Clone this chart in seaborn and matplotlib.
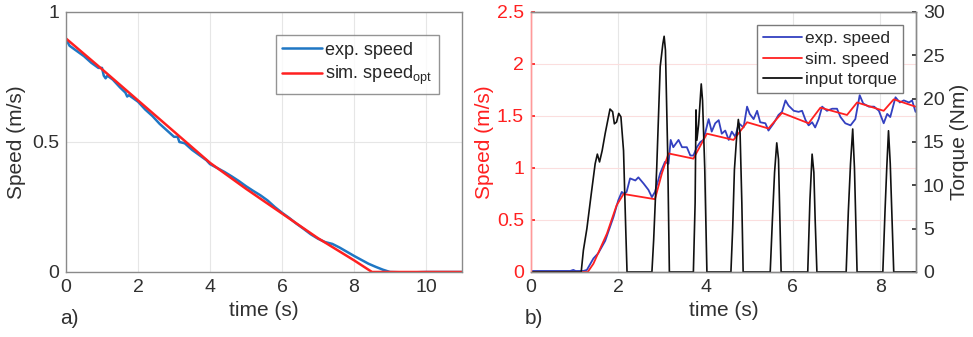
import numpy as np
import pandas as pd
import matplotlib
matplotlib.use("Agg")
import matplotlib.pyplot as plt
import seaborn as sns

# --- panel a) : coast-down ---
t_exp_a = [0.0, 0.1, 0.3, 0.5, 0.7, 0.9, 1.0, 1.05, 1.1, 1.15, 1.3, 1.5, 1.65, 1.7, 1.75, 1.9,
           2.0, 2.2, 2.4, 2.6, 2.8, 3.0, 3.1, 3.15, 3.3, 3.5, 3.7, 3.9, 4.0, 4.2, 4.4, 4.6,
           4.8, 5.0, 5.2, 5.4, 5.6, 5.8, 6.0, 6.2, 6.4, 6.6, 6.8, 7.0, 7.2, 7.4, 7.6, 7.8,
           8.0, 8.2, 8.4, 8.6, 8.8, 9.0, 9.5, 10.0, 11.0]
v_exp_a = [0.895, 0.87, 0.85, 0.83, 0.805, 0.785, 0.785, 0.755, 0.745, 0.755, 0.74, 0.71, 0.69, 0.675, 0.68, 0.665,
           0.655, 0.625, 0.60, 0.57, 0.545, 0.52, 0.52, 0.50, 0.495, 0.47, 0.45, 0.43, 0.415, 0.40, 0.385, 0.368,
           0.35, 0.33, 0.312, 0.295, 0.275, 0.25, 0.228, 0.208, 0.186, 0.166, 0.145, 0.128, 0.115, 0.108, 0.094, 0.078,
           0.062, 0.047, 0.032, 0.02, 0.009, 0.0, -0.002, 0.0, 0.0]
t_sim_a = [0.0, 1.0, 2.0, 3.0, 4.0, 5.0, 6.0, 7.0, 8.0, 8.5, 11.0]
v_sim_a = [0.898, 0.78, 0.66, 0.54, 0.42, 0.32, 0.225, 0.13, 0.045, 0.0, 0.0]

# --- panel b) : acceleration with pushes ---
t_exp_b = [0.0, 0.9, 0.97, 1.02, 1.2, 1.28, 1.43, 1.54, 1.70, 1.89, 2.0, 2.08, 2.13, 2.19, 2.27, 2.39,
           2.46, 2.58, 2.69, 2.77, 2.84, 2.96, 3.07, 3.15, 3.20, 3.26, 3.38, 3.46, 3.57, 3.65, 3.72, 3.80,
           3.88, 3.95, 4.07, 4.14, 4.22, 4.30, 4.37, 4.45, 4.53, 4.60, 4.68, 4.76, 4.87, 4.95, 5.01, 5.10,
           5.18, 5.25, 5.37, 5.44, 5.56, 5.67, 5.75, 5.83, 5.90, 6.02, 6.13, 6.21, 6.29, 6.36, 6.44, 6.51,
           6.59, 6.67, 6.78, 6.90, 7.01, 7.09, 7.20, 7.32, 7.43, 7.53, 7.61, 7.74, 7.86, 7.97, 8.08, 8.16,
           8.23, 8.35, 8.45, 8.54, 8.66, 8.73, 8.81]
v_exp_b = [0.01, 0.01, 0.02, 0.01, 0.01, 0.02, 0.13, 0.18, 0.30, 0.53, 0.69, 0.77, 0.75, 0.77, 0.90, 0.88,
           0.91, 0.85, 0.79, 0.72, 0.77, 0.95, 1.06, 1.04, 1.27, 1.20, 1.27, 1.20, 1.20, 1.12, 1.12, 1.20,
           1.25, 1.27, 1.47, 1.35, 1.43, 1.46, 1.33, 1.36, 1.27, 1.35, 1.30, 1.43, 1.39, 1.59, 1.52, 1.47,
           1.55, 1.44, 1.43, 1.36, 1.43, 1.51, 1.54, 1.65, 1.60, 1.55, 1.54, 1.55, 1.46, 1.41, 1.44, 1.39,
           1.47, 1.59, 1.55, 1.57, 1.57, 1.49, 1.43, 1.41, 1.47, 1.70, 1.62, 1.59, 1.59, 1.55, 1.43, 1.52,
           1.49, 1.68, 1.63, 1.65, 1.63, 1.65, 1.54]
t_sim_b = [0.0, 1.3, 1.43, 1.74, 1.96, 2.12, 2.84, 3.0, 3.15, 3.72, 4.03, 4.64, 4.95, 5.44, 5.75,
           6.36, 6.63, 7.24, 7.47, 8.08, 8.31, 8.81]
v_sim_b = [0.0, 0.0, 0.08, 0.37, 0.64, 0.75, 0.70, 0.95, 1.14, 1.09, 1.33, 1.27, 1.44, 1.38, 1.53,
           1.43, 1.58, 1.51, 1.63, 1.55, 1.66, 1.59]
t_torque = [0.0, 1.15, 1.2, 1.28, 1.38, 1.47, 1.52, 1.57, 1.63, 1.70, 1.81, 1.87, 1.91, 1.96, 2.01, 2.06,
            2.12, 2.17, 2.2, 2.77, 2.81, 2.88, 2.96, 3.02, 3.05, 3.08, 3.13, 3.17, 3.72, 3.76, 3.78,
            3.80, 3.84, 3.90, 3.93, 3.98, 4.03, 4.58, 4.62, 4.66, 4.71, 4.75, 4.79, 4.83, 4.86, 5.48,
            5.53, 5.58, 5.63, 5.67, 5.73, 6.34, 6.39, 6.44, 6.48, 6.51, 6.55, 7.22, 7.27, 7.32, 7.37,
            7.41, 7.47, 8.06, 8.11, 8.15, 8.19, 8.23, 8.31, 8.8]
tq_torque = [0.0, 0.0, 2.5, 5.0, 9.0, 12.5, 13.6, 12.7, 14.0, 16.0, 18.8, 18.5, 17.1, 17.3, 18.3, 17.9,
             14.0, 5.0, 0.0, 0.0, 3.7, 12.0, 23.7, 26.3, 27.2, 25.6, 14.0, 0.0, 0.0, 8.0, 18.7,
             15.2, 17.0, 21.7, 19.8, 12.0, 0.0, 0.0, 5.0, 11.8, 15.5, 17.6, 16.0, 8.0, 0.0, 0.0,
             6.0, 11.5, 14.9, 13.0, 0.0, 0.0, 8.3, 13.6, 11.5, 6.0, 0.0, 0.0, 7.0, 12.5, 16.5,
             12.0, 0.0, 0.0, 7.0, 12.0, 16.3, 12.5, 0.0, 0.0]

C_BLUE_A = "#1f77c4"
C_BLUE_B = "#3340c0"
C_RED = "#ff2020"
C_TXT = "#303030"
C_SPINE = "#8a8a8a"

sns.set_theme(style="whitegrid")
plt.rcParams["font.family"] = ["Liberation Sans", "DejaVu Sans"]
plt.rcParams["mathtext.fontset"] = "custom"
plt.rcParams["mathtext.rm"] = "Liberation Sans"

fig = plt.figure(figsize=(9.73, 3.37), dpi=100)
ax1 = fig.add_axes([66 / 973, 1 - 272 / 337, 396 / 973, 260 / 337])
ax2 = fig.add_axes([531 / 973, 1 - 272 / 337, 385 / 973, 260 / 337])
ax3 = ax2.twinx()

# ---- panel a ----
df_exp_a = pd.DataFrame({"t": t_exp_a, "v": v_exp_a})
df_sim_a = pd.DataFrame({"t": t_sim_a, "v": v_sim_a})
sns.lineplot(data=df_exp_a, x="t", y="v", ax=ax1, color=C_BLUE_A, lw=1.8, label="exp. speed")
sns.lineplot(data=df_sim_a, x="t", y="v", ax=ax1, color=C_RED, lw=1.8,
             label="sim. speed$_\\mathregular{opt}$")
ax1.set_xlim(0, 11)
ax1.set_ylim(0, 1)
ax1.set_xticks([0, 2, 4, 6, 8, 10])
ax1.set_xticklabels(["0", "2", "4", "6", "8", "10"])
ax1.set_yticks([0, 0.5, 1])
ax1.set_yticklabels(["0", "0.5", "1"])
ax1.set_xlabel("time (s)", fontsize=15, color=C_TXT, labelpad=4)
ax1.set_ylabel("Speed (m/s)", fontsize=15, color=C_TXT, labelpad=4)
ax1.tick_params(labelsize=14, colors=C_TXT, direction="in", length=3, pad=5)
ax1.grid(True, color="#e6e6e6", lw=0.8)
for s in ax1.spines.values():
    s.set_color(C_SPINE)
    s.set_linewidth(1.0)
leg1 = ax1.legend(loc="upper right", fontsize=13, frameon=True, fancybox=False,
                  edgecolor="#7a7a7a", handlelength=2.2, borderaxespad=1.3,
                  labelspacing=0.3, handletextpad=0.2, borderpad=0.35)
leg1.get_frame().set_linewidth(1.0)

# ---- panel b ----
df_exp_b = pd.DataFrame({"t": t_exp_b, "v": v_exp_b})
df_sim_b = pd.DataFrame({"t": t_sim_b, "v": v_sim_b})
df_tq = pd.DataFrame({"t": t_torque, "tq": tq_torque})
sns.lineplot(data=df_exp_b, x="t", y="v", ax=ax2, color=C_BLUE_B, lw=1.3, legend=False)
sns.lineplot(data=df_sim_b, x="t", y="v", ax=ax2, color=C_RED, lw=1.3, legend=False)
sns.lineplot(data=df_tq, x="t", y="tq", ax=ax3, color="#111111", lw=1.2, legend=False)

ax2.set_xlim(0, 8.82)
ax2.set_ylim(0, 2.5)
ax2.set_xticks([0, 2, 4, 6, 8])
ax2.set_xticklabels(["0", "2", "4", "6", "8"])
ax2.set_yticks([0, 0.5, 1, 1.5, 2, 2.5])
ax2.set_yticklabels(["0", "0.5", "1", "1.5", "2", "2.5"])
ax2.set_xlabel("time (s)", fontsize=15, color=C_TXT, labelpad=4)
ax2.set_ylabel("Speed (m/s)", fontsize=15, color=C_RED, labelpad=2)
ax2.tick_params(axis="x", labelsize=14, colors=C_TXT, direction="in", length=3, pad=5)
ax2.tick_params(axis="y", labelsize=14, colors=C_RED, direction="in", length=3, pad=5)
ax2.grid(True, axis="x", color="#e6e6e6", lw=0.8)
ax2.grid(True, axis="y", color="#fbdede", lw=0.8)

ax3.set_ylim(0, 30)
ax3.set_yticks([0, 5, 10, 15, 20, 25, 30])
ax3.set_yticklabels(["0", "5", "10", "15", "20", "25", "30"])
ax3.set_ylabel("Torque (Nm)", fontsize=15, color=C_TXT, labelpad=4)
ax3.tick_params(axis="y", labelsize=14, colors=C_TXT, direction="in", length=3, pad=5)
ax3.grid(False)
for a in (ax2, ax3):
    for s in a.spines.values():
        s.set_color(C_SPINE)
        s.set_linewidth(1.0)
ax2.spines["left"].set_color("#ff9a9a")
ax3.spines["left"].set_color("#ff9a9a")

handles = [plt.Line2D([], [], color=C_BLUE_B, lw=1.3),
           plt.Line2D([], [], color=C_RED, lw=1.3),
           plt.Line2D([], [], color="#111111", lw=1.3)]
leg2 = ax3.legend(handles, ["exp. speed", "sim. speed", "input torque"], loc="upper right",
                  fontsize=12.5, frameon=True, fancybox=False, edgecolor="#7a7a7a",
                  handlelength=2.2, borderaxespad=0.75, labelspacing=0.3,
                  handletextpad=0.2, borderpad=0.35)
leg2.get_frame().set_linewidth(1.0)
leg2.get_frame().set_alpha(1)

fig.text(60 / 973, 1 - 319 / 337, "a)", fontsize=15, color=C_TXT, va="center", ha="left")
fig.text(525 / 973, 1 - 319 / 337, "b)", fontsize=15, color=C_TXT, va="center", ha="left")

fig.savefig("out.png", dpi=100, facecolor="white")
